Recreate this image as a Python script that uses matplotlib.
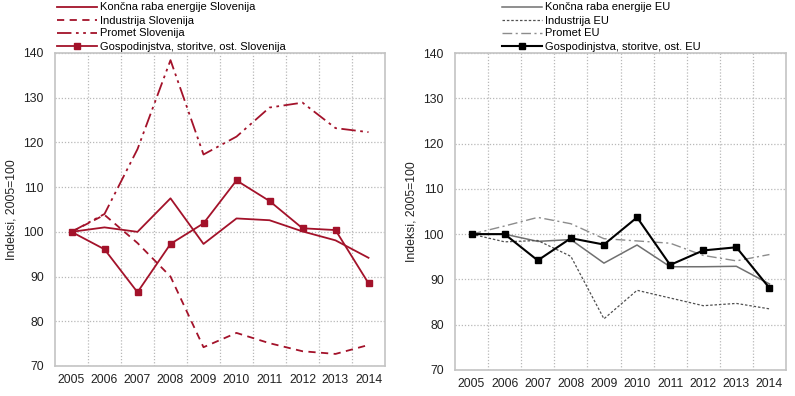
import matplotlib
matplotlib.use("Agg")
import matplotlib.pyplot as plt
from matplotlib.ticker import MultipleLocator, FixedLocator

plt.rcParams['font.family'] = ['Liberation Sans', 'DejaVu Sans']

years = ['2005', '2006', '2007', '2008', '2009', '2010', '2011', '2012', '2013', '2014']

si_koncna = [100, 101.0, 100.0, 107.5, 97.3, 103.0, 102.6, 100.1, 98.1, 94.2]
si_industrija = [100, 103.8, 97.5, 90.0, 74.2, 77.4, 75.1, 73.3, 72.7, 74.7]
si_promet = [100, 104.0, 118.5, 138.4, 117.3, 121.3, 127.8, 128.9, 123.2, 122.3]
si_gospod = [100, 96.1, 86.5, 97.3, 101.9, 111.5, 106.9, 100.8, 100.4, 88.5]

eu_koncna = [100, 100.0, 98.4, 98.8, 93.6, 97.6, 92.8, 92.8, 92.9, 89.0]
eu_industrija = [100, 98.3, 98.6, 95.1, 81.3, 87.6, 85.9, 84.2, 84.7, 83.5]
eu_promet = [100, 101.8, 103.7, 102.3, 99.0, 98.5, 98.0, 95.3, 94.1, 95.5]
eu_gospod = [100, 100.0, 94.2, 99.1, 97.7, 103.7, 93.2, 96.4, 97.1, 88.1]

labels_si = ['Končna raba energije Slovenija', 'Industrija Slovenija',
             'Promet Slovenija', 'Gospodinjstva, storitve, ost. Slovenija']
labels_eu = ['Končna raba energije EU', 'Industrija EU',
             'Promet EU', 'Gospodinjstva, storitve, ost. EU']

W, H = 795, 396
fig = plt.figure(figsize=(W / 100, H / 100), dpi=100)

ax1 = fig.add_axes([55 / W, 1 - 366 / H, 330 / W, 313 / H])
ax2 = fig.add_axes([455 / W, 1 - 370 / H, 331 / W, 317 / H])

RED = '#a3122a'
x = list(range(len(years)))
FS = 8.8
LFS = 8.0

l1 = ax1.plot(x, si_koncna, color=RED, lw=1.3, label=labels_si[0])
l2 = ax1.plot(x, si_industrija, color=RED, lw=1.3, ls=(0, (4, 3)), label=labels_si[1])
l3 = ax1.plot(x, si_promet, color=RED, lw=1.3, ls=(0, (8, 2.5, 1.5, 2.5, 1.5, 2.5)), label=labels_si[2])
l4 = ax1.plot(x, si_gospod, color=RED, lw=1.3, marker='s', ms=4.2, label=labels_si[3])

m1 = ax2.plot(x, eu_koncna, color='#707070', lw=1.1, label=labels_eu[0])
m2 = ax2.plot(x, eu_industrija, color='#505050', lw=0.9, ls=(0, (2, 1.5)), label=labels_eu[1])
m3 = ax2.plot(x, eu_promet, color='#8c8c8c', lw=1.0, ls=(0, (7, 2.5, 1.5, 2.5)), label=labels_eu[2])
m4 = ax2.plot(x, eu_gospod, color='black', lw=1.5, marker='s', ms=4.2, label=labels_eu[3])

for ax in (ax1, ax2):
    ax.set_xlim(-0.5, len(years) - 0.5)
    ax.set_ylim(70, 140)
    ax.set_xticks(x)
    ax.set_xticklabels(years, fontsize=FS)
    ax.yaxis.set_major_locator(MultipleLocator(10))
    ax.xaxis.set_minor_locator(FixedLocator([i + 0.5 for i in range(len(years) - 1)]))
    ax.tick_params(axis='both', which='both', length=0, labelsize=FS, colors='#222222')
    ax.tick_params(axis='y', pad=8)
    ax.tick_params(axis='x', pad=6)
    ax.grid(axis='y', which='major', color='#b8b8b8', ls=(0, (1, 1.5)), lw=0.9)
    ax.grid(axis='x', which='minor', color='#b8b8b8', ls=(0, (1, 1.5)), lw=0.9)
    ax.set_axisbelow(True)
    for s in ax.spines.values():
        s.set_color('#c4c4c4')
        s.set_linewidth(1.2)
    ax.set_ylabel('Indeksi, 2005=100', fontsize=FS, color='#222222', labelpad=4)

common = dict(loc='upper left', frameon=False, fontsize=LFS, handlelength=3.6,
              handletextpad=0.3, labelspacing=0.27, borderpad=0, borderaxespad=0,
              numpoints=1)
fig.legend(handles=l1 + l2 + l3 + l4, bbox_to_anchor=(57 / W, 1 - 2.5 / H), **common)
fig.legend(handles=m1 + m2 + m3 + m4, bbox_to_anchor=(502 / W, 1 - 2.5 / H), **common)

fig.savefig('out.png', dpi=100)
